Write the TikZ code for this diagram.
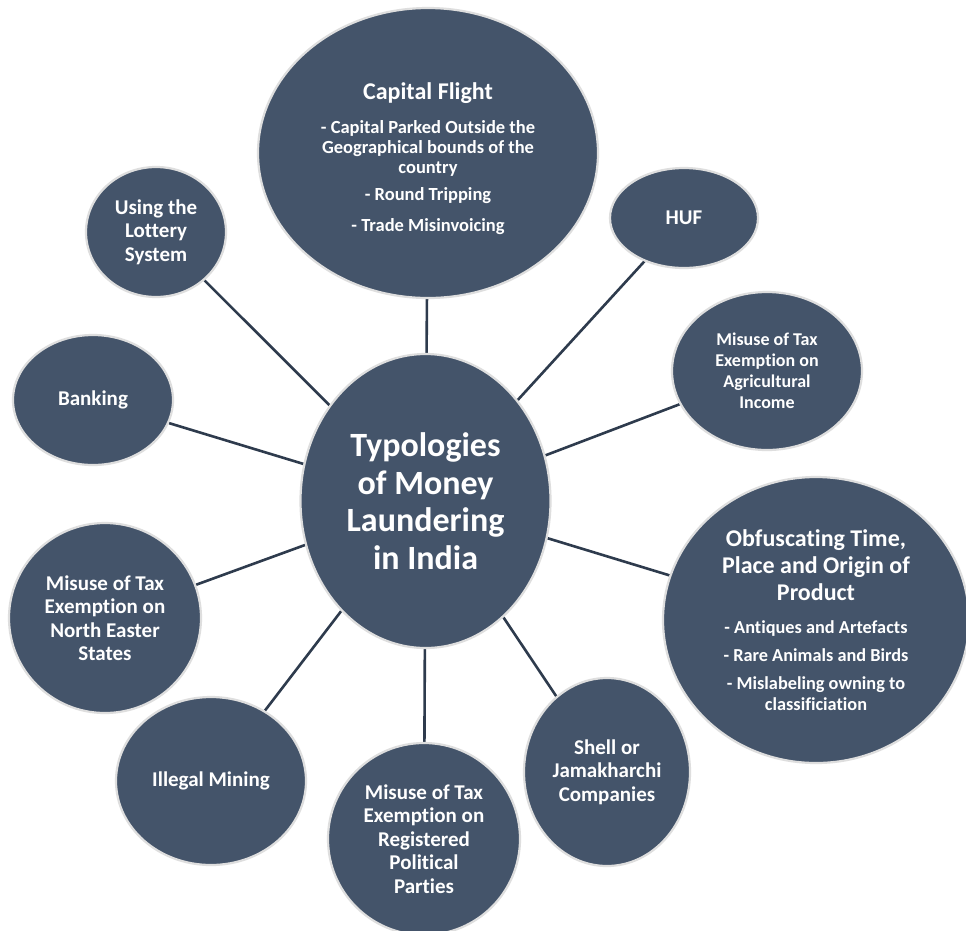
\documentclass[tikz,border=0pt]{standalone}
\usepackage{fontspec}
\setmainfont{Carlito}[RawFeature=-liga]
\usetikzlibrary{shapes.geometric}
\pgfdeclarelayer{bg}
\pgfsetlayers{bg,main}
\definecolor{bubble}{HTML}{44546A}
\definecolor{rim}{HTML}{DEDEDE}
\definecolor{link}{HTML}{2E3B4D}
\newcommand\fixlines{\lineskiplimit=-100pt\relax}
\newcommand\bubfont[2]{\bfseries\fontsize{#1}{#2}\selectfont\fixlines}
\begin{document}
\begin{tikzpicture}[x=1pt,y=-1pt,
  bub/.style={ellipse, fill=bubble, draw=rim, line width=2.2pt, inner sep=0pt,
    text=white, align=center, font={\bubfont{21}{23.5}}},
  conn/.style={draw=link, line width=2.6pt}]
\useasboundingbox (0,0) rectangle (966,930);
\clip (0,0) rectangle (966,930);

\node[bub, minimum width=250pt, minimum height=294pt,
  font={\bubfont{34}{37.5}}] (core) at (425.5,501)
  {Typologies\\of Money\\Laundering\\in India};

\node[bub, minimum width=340pt, minimum height=290pt,
  font={\bubfont{18.5}{20}}] (capital) at (428,153)
  {{\fontsize{24}{27}\selectfont\rule{0pt}{28pt}Capital Flight}\\[14pt]
   - Capital Parked Outside the\\Geographical bounds of the\\country\\[7pt]
   - Round Tripping\\[11pt]
   - Trade Misinvoicing};

\node[bub, minimum width=148pt, minimum height=100pt] (huf) at (684,218) {HUF};

\node[bub, minimum width=190pt, minimum height=158pt,
  font={\bubfont{18}{21}}] (agri) at (767,371)
  {Misuse of Tax\\Exemption on\\Agricultural\\Income};

\node[bub, minimum width=306pt, minimum height=286pt,
  font={\bubfont{18.3}{21}}] (obf) at (816,620)
  {{\fontsize{24}{27}\selectfont Obfuscating Time,}\\[6pt]
   {\fontsize{24}{27}\selectfont Place and Origin of}\\[6pt]
   {\fontsize{24}{27}\selectfont Product}\\[12pt]
   - Antiques and Artefacts\\[7pt]
   - Rare Animals and Birds\\[7pt]
   - Mislabeling owning to\\classificiation};

\node[bub, minimum width=166pt, minimum height=188pt] (shell) at (607,772)
  {Shell or\\Jamakharchi\\Companies};

\node[bub, minimum width=192pt, minimum height=192pt] (party) at (424,839)
  {Misuse of Tax\\Exemption on\\Registered\\Political\\Parties};

\node[bub, minimum width=190pt, minimum height=168pt] (mining) at (211,781)
  {Illegal Mining};

\node[bub, minimum width=192pt, minimum height=190pt] (northeast) at (105,618)
  {Misuse of Tax\\Exemption on\\North Easter\\States};

\node[bub, minimum width=160pt, minimum height=130pt] (banking) at (93,400)
  {Banking};

\node[bub, minimum width=140pt, minimum height=130pt] (lottery) at (156,232)
  {Using the\\Lottery\\System};

\begin{pgfonlayer}{bg}
  \fill[white] (0,0) rectangle (966,930);
  \foreach \n in {capital,huf,agri,obf,shell,party,mining,northeast,banking,lottery}
    \draw[conn] (core) -- (\n);
\end{pgfonlayer}
\end{tikzpicture}
\end{document}
